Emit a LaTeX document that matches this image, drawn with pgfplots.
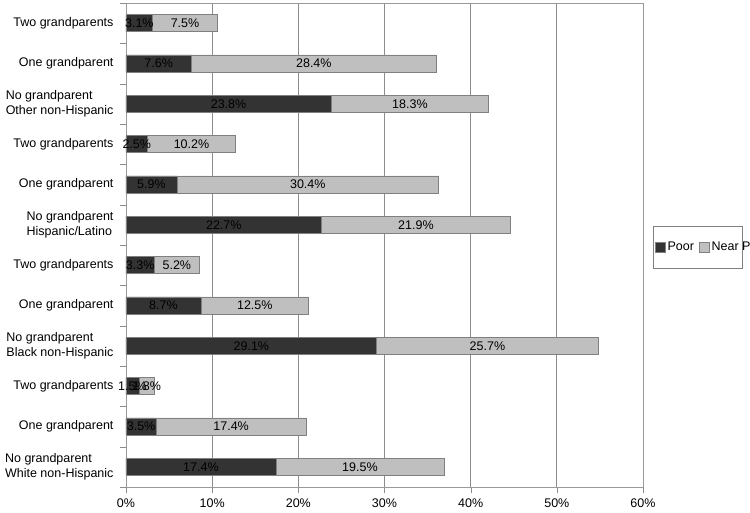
\documentclass[border=0pt]{standalone}
\usepackage{pgfplots}
\usepackage{pgfplotstable}
\usepackage{fontspec}
\setmainfont{Liberation Sans}
\pgfplotsset{compat=1.18}
\definecolor{poorc}{HTML}{333333}
\definecolor{nearc}{HTML}{BFBFBF}
\definecolor{gridc}{HTML}{8C8C8C}
\pgfplotstableread{
y poor near
0 17.4 19.5
1 3.5 17.4
2 1.5 1.8
3 29.1 25.7
4 8.7 12.5
5 3.3 5.2
6 22.7 21.9
7 5.9 30.4
8 2.5 10.2
9 23.8 18.3
10 7.6 28.4
11 3.1 7.5
}\data
\begin{document}
\begin{tikzpicture}[font=\fontsize{12.5}{15.5}\selectfont]
\pgfplotsset{
 common/.style={
  scale only axis, width=517pt, height=484pt,
  xmin=0, xmax=60, ymin=-0.5, ymax=11.5,
  /pgf/number format/assume math mode=true,
 }
}
\begin{axis}[common,
  xbar stacked, bar width=17pt,
  xtick={0,10,...,60},
  xticklabel={\pgfmathprintnumber{\tick}\%},
  xmajorgrids, grid style={draw=gridc, line width=0.7pt},
  axis line style={draw=gray!80},
  tick pos=left,
  tick align=outside, major tick length=6pt,
  tick style={draw=gridc},
  ytick={0,...,11},
  yticklabels={{No grandparent\\White non-Hispanic}, One grandparent, Two grandparents,
    {No grandparent\\Black non-Hispanic}, One grandparent, Two grandparents,
    {No grandparent\\Hispanic/Latino}, One grandparent, Two grandparents,
    {No grandparent\\Other non-Hispanic}, One grandparent, Two grandparents},
  yticklabel style={align=left, xshift=-3pt},
  ytick style={draw=none},
  extra y ticks={-0.5,0.5,...,11.5},
  extra y tick labels={},
  extra y tick style={ytick style={draw=gridc}, grid=none},
  xticklabel style={yshift=-2pt},
  legend style={at={(1.019,0.496)}, anchor=west, legend columns=2, draw=gray,
    font=\fontsize{12.5}{14}\selectfont, inner xsep=2pt, inner ysep=14pt,
    /tikz/every even column/.append style={column sep=3pt}},
  legend cell align=left,
]
\addplot[fill=poorc, draw=gray, line width=0.6pt,
  legend image code/.code={\draw[fill=poorc,draw=gray] (0pt,-5pt) rectangle (10pt,5pt);}]
  table[x=poor, y=y]{\data};
\addlegendentry{Poor}
\addplot[fill=nearc, draw=gray, line width=0.6pt,
  legend image code/.code={\draw[fill=nearc,draw=gray] (0pt,-5pt) rectangle (10pt,5pt);}]
  table[x=near, y=y]{\data};
\addlegendentry{\makebox[27pt][l]{Near Poor}}
\end{axis}
\begin{axis}[common, hide axis, clip=false]
\addplot[draw=none, point meta=explicit,
  nodes near coords={\pgfmathprintnumber[fixed,fixed zerofill,precision=1]{\pgfplotspointmeta}\%},
  every node near coord/.append style={anchor=center, inner sep=0pt, text=black}]
  table[x expr=\thisrow{poor}/2, y=y, meta=poor]{\data};
\addplot[draw=none, point meta=explicit,
  nodes near coords={\pgfmathprintnumber[fixed,fixed zerofill,precision=1]{\pgfplotspointmeta}\%},
  every node near coord/.append style={anchor=center, inner sep=0pt, text=black}]
  table[x expr=\thisrow{poor}+\thisrow{near}/2, y=y, meta=near]{\data};
\end{axis}
\pgfresetboundingbox
\useasboundingbox (-126pt,-26pt) rectangle (624pt,487pt);
\end{tikzpicture}
\end{document}
